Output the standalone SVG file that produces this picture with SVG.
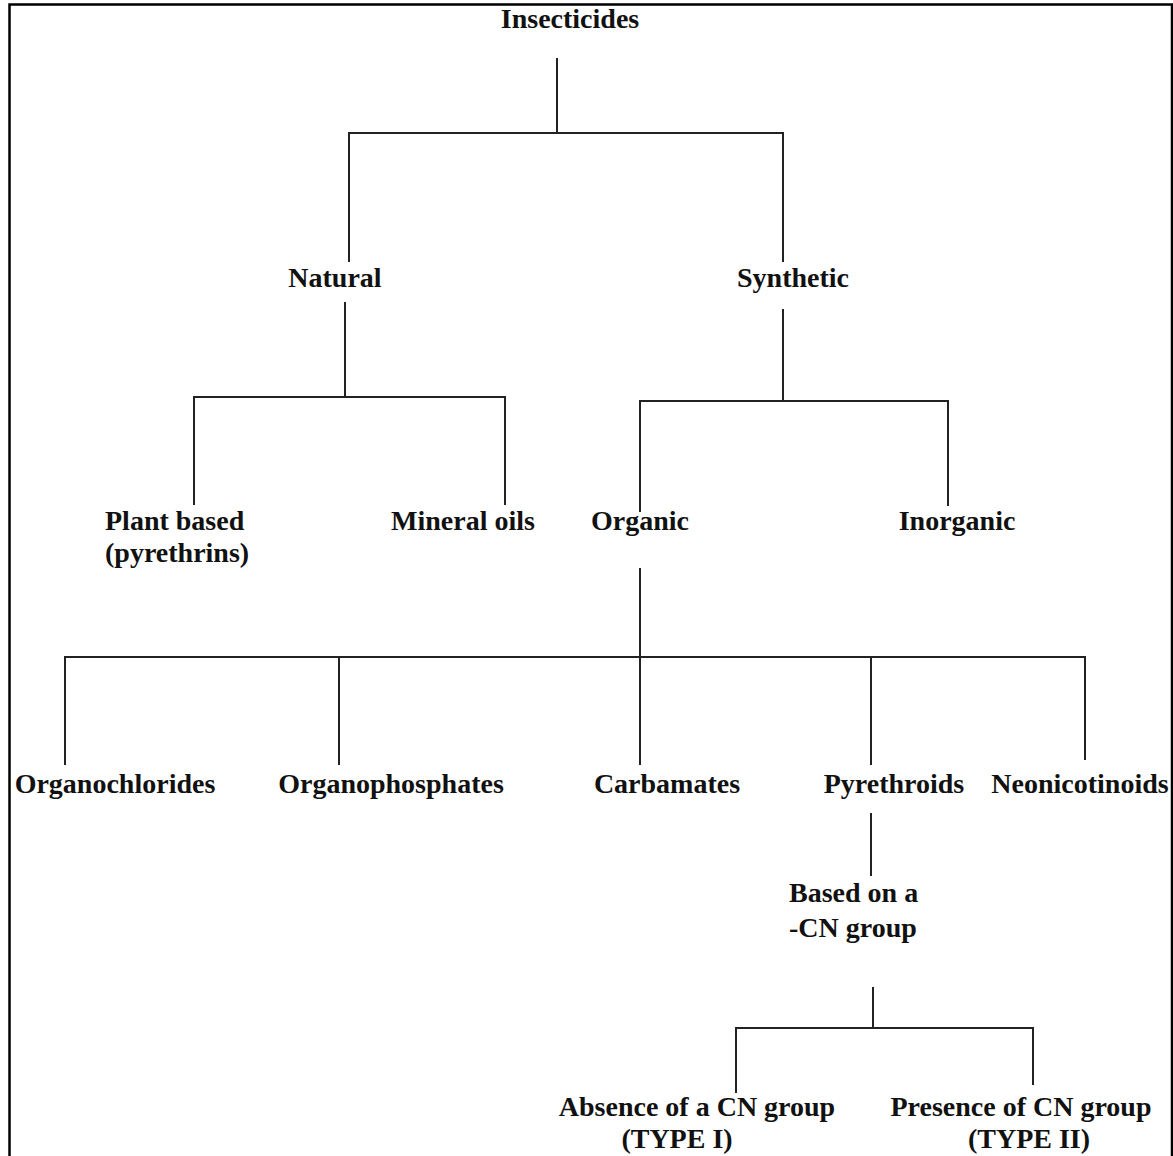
<svg xmlns="http://www.w3.org/2000/svg" width="1173" height="1156" viewBox="0 0 1173 1156">
<style>
.t{font-family:"Liberation Serif","Times New Roman",serif;font-weight:bold;font-size:28px;fill:#111}
.m{text-anchor:middle}
.c{fill:none;stroke:#222;stroke-width:2}
.b{fill:none;stroke:#000;stroke-width:2.5}
</style>
<rect width="1173" height="1156" fill="#fff"/>
<path class="b" d="M9.5,1160 V4.5 H1172 V1160"/>
<g id="connectors">
<path class="c" d="M557,58 V133 M349,262 V133 H783 V262"/>
<path class="c" d="M345,302 V397 M194,505 V397 H505 V505"/>
<path class="c" d="M783,309 V401 M640,512 V401 H948 V506"/>
<path class="c" d="M640,568 V657 M65,765 V657 H1085 V760 M339,657 V765 M640,657 V765 M871,657 V765"/>
<path class="c" d="M871,813 V876"/>
<path class="c" d="M873,987 V1028 M736,1093 V1028 H1033 V1085"/>
</g>
<g id="n-insecticides"><text class="t m" x="570" y="28">Insecticides</text></g>
<g id="n-natural"><text class="t m" x="335" y="287">Natural</text></g>
<g id="n-synthetic"><text class="t m" x="793" y="287">Synthetic</text></g>
<g id="n-plant"><text class="t" x="105" y="530">Plant based</text><text class="t" x="105" y="562">(pyrethrins)</text></g>
<g id="n-mineral"><text class="t m" x="463" y="530">Mineral oils</text></g>
<g id="n-organic"><text class="t m" x="640" y="530">Organic</text></g>
<g id="n-inorganic"><text class="t m" x="957" y="530">Inorganic</text></g>
<g id="n-organochlorides"><text class="t m" x="115" y="793">Organochlorides</text></g>
<g id="n-organophosphates"><text class="t m" x="391" y="793">Organophosphates</text></g>
<g id="n-carbamates"><text class="t m" x="667" y="793">Carbamates</text></g>
<g id="n-pyrethroids"><text class="t m" x="894" y="793">Pyrethroids</text></g>
<g id="n-neonicotinoids"><text class="t m" x="1080" y="793">Neonicotinoids</text></g>
<g id="n-cn"><text class="t" x="789" y="902">Based on a</text><text class="t" x="789" y="937">-CN group</text></g>
<g id="n-type1"><text class="t m" x="697" y="1116">Absence of a CN group</text><text class="t m" x="677" y="1148">(TYPE I)</text></g>
<g id="n-type2"><text class="t m" x="1021" y="1116">Presence of CN group</text><text class="t m" x="1029" y="1148">(TYPE II)</text></g>
</svg>
